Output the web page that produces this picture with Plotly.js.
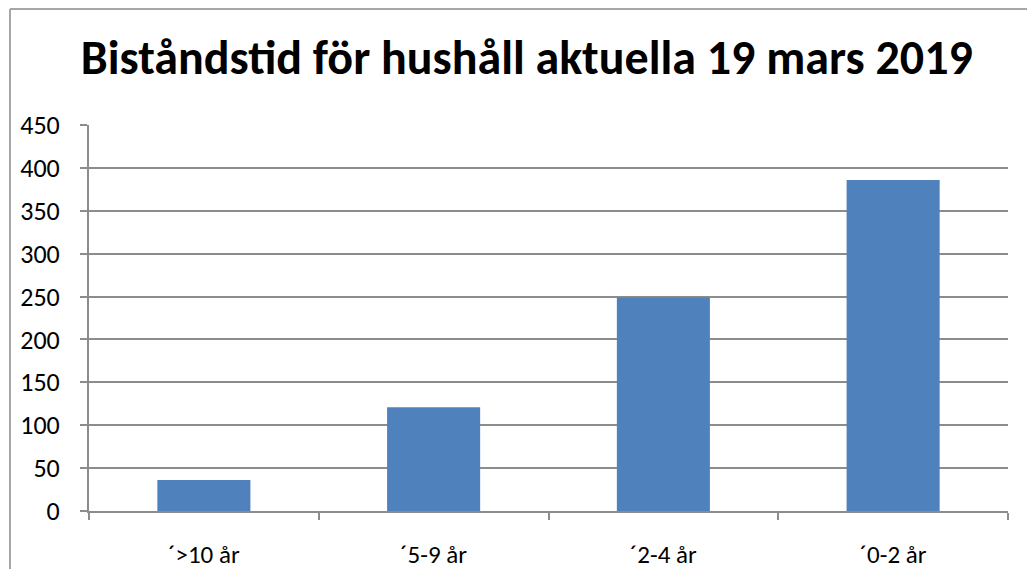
<!DOCTYPE html>
<html>
<head>
<meta charset="utf-8">
<script src="https://cdn.plot.ly/plotly-3.0.1.min.js"></script>
<style>html,body{margin:0;padding:0;background:#fff;}#chart{width:1027px;height:569px;}</style>
</head>
<body>
<div id="chart"></div>
<script>
const categories = ["´>10 år", "´5-9 år", "´2-4 år", "´0-2 år"];
const values = [36, 121, 249, 386];
const yTicks = [0, 50, 100, 150, 200, 250, 300, 350, 400, 450];
const titleText = "Biståndstid för hushåll aktuella 19 mars 2019";

const fontFam = "Carlito, Calibri, 'Liberation Sans Narrow', 'Open Sans', sans-serif";
const gridCol = "#8c8c8c";

const trace = {
  type: "bar",
  x: categories,
  y: values,
  marker: {color: "#4F81BD"},
  hoverinfo: "x+y"
};

const layout = {
  width: 1027,
  height: 569,
  margin: {l: 89, r: 19, t: 125, b: 58, pad: 0},
  paper_bgcolor: "#ffffff",
  plot_bgcolor: "#ffffff",
  showlegend: false,
  bargap: 0.595,
  font: {family: fontFam, color: "#000000", size: 24},
  title: {
    text: "<b>" + titleText + "</b>",
    font: {family: fontFam, size: 48, color: "#000000"},
    x: 0.513, xref: "container", xanchor: "center",
    y: 0.9, yref: "container", yanchor: "middle"
  },
  xaxis: {
    type: "category",
    showline: true, linecolor: gridCol, linewidth: 2,
    ticks: "outside", tickson: "boundaries", ticklen: 7, tickcolor: gridCol, tickwidth: 2,
    showgrid: false,
    tickfont: {family: fontFam, size: 25, color: "#000"},
    ticklabelstandoff: 20,
    fixedrange: true
  },
  yaxis: {
    range: [0, 450],
    tickvals: yTicks,
    ticktext: yTicks.map(String),
    showline: true, linecolor: gridCol, linewidth: 2,
    ticks: "outside", ticklen: 7, tickcolor: gridCol, tickwidth: 2,
    showgrid: true, gridcolor: gridCol, gridwidth: 2,
    zeroline: false,
    tickfont: {family: fontFam, size: 26, color: "#000"},
    ticklabelstandoff: 15,
    fixedrange: true
  },
  shapes: [
    {type: "line", xref: "paper", yref: "paper",
     x0: (10 - 89) / 919, x1: (10 - 89) / 919, y0: (511 - 9) / 386, y1: -0.3,
     line: {color: "#a6a6a6", width: 2}},
    {type: "line", xref: "paper", yref: "paper",
     x0: (10 - 89) / 919, x1: 1.1, y0: (511 - 9) / 386, y1: (511 - 9) / 386,
     line: {color: "#a6a6a6", width: 2}}
  ]
};

Plotly.newPlot("chart", [trace], layout, {displayModeBar: false, staticPlot: true});
</script>
</body>
</html>
